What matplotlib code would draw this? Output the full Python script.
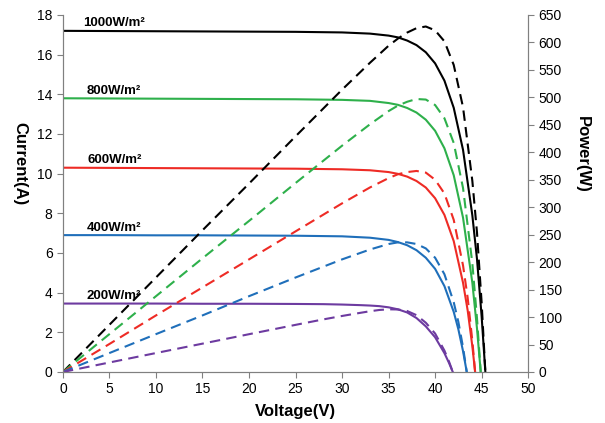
import numpy as np
import matplotlib
matplotlib.use('Agg')
import matplotlib.pyplot as plt

plt.rcParams['font.family'] = ['Liberation Sans', 'DejaVu Sans']

# I-V and P-V data, one set per irradiance level
labels = ['1000W/m²', '800W/m²', '600W/m²', '400W/m²', '200W/m²']
colors = ['#000000', '#2eb04b', '#ee2b25', '#1f6fba', '#6d3ba0']
label_x = [2.15, 2.6, 2.6, 2.6, 2.5]

v_1000 = [0, 5, 10, 15, 20, 25, 30, 33, 35, 36, 37, 38, 39, 40, 41, 42, 43, 44, 44.5, 45, 45.4]
i_1000 = [17.20, 17.19, 17.18, 17.17, 17.16, 17.15, 17.12, 17.06, 16.96, 16.87, 16.71, 16.48,
          16.12, 15.56, 14.69, 13.32, 11.2, 7.9, 5.7, 2.8, 0]
p_1000 = [0, 86, 172, 258, 343, 429, 514, 563, 594, 607, 618, 626, 629, 622, 602, 559, 482,
          348, 254, 126, 0]

v_800 = [0, 5, 10, 15, 20, 25, 30, 33, 35, 36, 37, 38, 39, 40, 41, 42, 43, 44, 44.5, 44.9]
i_800 = [13.80, 13.79, 13.78, 13.77, 13.76, 13.75, 13.72, 13.67, 13.56, 13.47, 13.31, 13.08,
         12.72, 12.16, 11.28, 9.92, 7.78, 4.5, 2.2, 0]
p_800 = [0, 69, 138, 207, 275, 344, 412, 451, 475, 485, 492, 497, 496, 486, 462, 417, 335,
         198, 98, 0]

v_600 = [0, 5, 10, 15, 20, 25, 30, 33, 35, 36, 37, 38, 39, 40, 41, 42, 43, 43.5, 44, 44.3]
i_600 = [10.30, 10.29, 10.28, 10.27, 10.26, 10.25, 10.22, 10.17, 10.08, 9.99, 9.85, 9.63,
         9.30, 8.76, 7.92, 6.6, 4.5, 3.1, 1.3, 0]
p_600 = [0, 51, 103, 154, 205, 256, 307, 336, 353, 360, 364, 366, 363, 350, 325, 277, 194,
         135, 57, 0]

v_400 = [0, 5, 10, 15, 20, 25, 30, 33, 35, 36, 37, 38, 39, 40, 41, 42, 42.5, 43, 43.4]
i_400 = [6.90, 6.90, 6.89, 6.89, 6.88, 6.87, 6.84, 6.77, 6.66, 6.55, 6.39, 6.14, 5.76, 5.2,
         4.33, 3.03, 2.15, 1.05, 0]
p_400 = [0, 34.5, 68.9, 103, 138, 172, 205, 223, 233, 236, 236, 233, 225, 208, 178, 127,
         91, 45, 0]

v_200 = [0, 5, 10, 15, 20, 25, 28, 30, 32, 33, 34, 35, 36, 37, 38, 39, 40, 41, 41.5, 41.9]
i_200 = [3.45, 3.45, 3.45, 3.44, 3.44, 3.43, 3.42, 3.40, 3.37, 3.35, 3.32, 3.26, 3.16, 3.00,
         2.72, 2.30, 1.75, 0.95, 0.45, 0]
p_200 = [0, 17.3, 34.5, 51.6, 68.8, 85.8, 95.8, 102, 107.8, 110.6, 112.9, 114.1, 113.8, 111,
         103.4, 89.7, 70, 39, 18.7, 0]

volts = [v_1000, v_800, v_600, v_400, v_200]
currents = [i_1000, i_800, i_600, i_400, i_200]
powers = [p_1000, p_800, p_600, p_400, p_200]

fig = plt.figure(figsize=(6.05, 4.23), dpi=100)
ax = fig.add_axes([0.104, 0.1206, 0.769, 0.844])
ax2 = ax.twinx()

for v, i, p, c, lab, lx in zip(volts, currents, powers, colors, labels, label_x):
    ax.plot(v, i, color=c, lw=1.5)
    ax2.plot(v, p, color=c, lw=1.5, dashes=(5, 3))
    ax.text(lx, i[0] + 0.08, lab, fontsize=9.5, fontweight='bold', va='bottom', ha='left')

ax.set_xlim(0, 50)
ax.set_ylim(0, 18)
ax2.set_ylim(0, 650)
ax.set_xticks(np.arange(0, 51, 5))
ax.set_yticks(np.arange(0, 19, 2))
ax2.set_yticks(np.arange(0, 651, 50))

for a in (ax, ax2):
    a.spines['top'].set_visible(False)
    for s in ('left', 'right', 'bottom'):
        a.spines[s].set_color('#808080')
    a.tick_params(colors='#808080', labelcolor='black', labelsize=10, length=4, width=0.8)

ax.set_xlabel('Voltage(V)', fontsize=12, fontweight='bold', va='center')
ax.xaxis.set_label_coords(0.5, -0.11)
ax.set_ylabel('Current(A)', fontsize=12, fontweight='bold', rotation=-90, va='center')
ax.yaxis.set_label_coords(-0.092, 0.585)
ax2.set_ylabel('Power(W)', fontsize=12, fontweight='bold', rotation=-90, va='center')
ax2.yaxis.set_label_coords(1.117, 0.608)

fig.savefig('out.png', dpi=100)
